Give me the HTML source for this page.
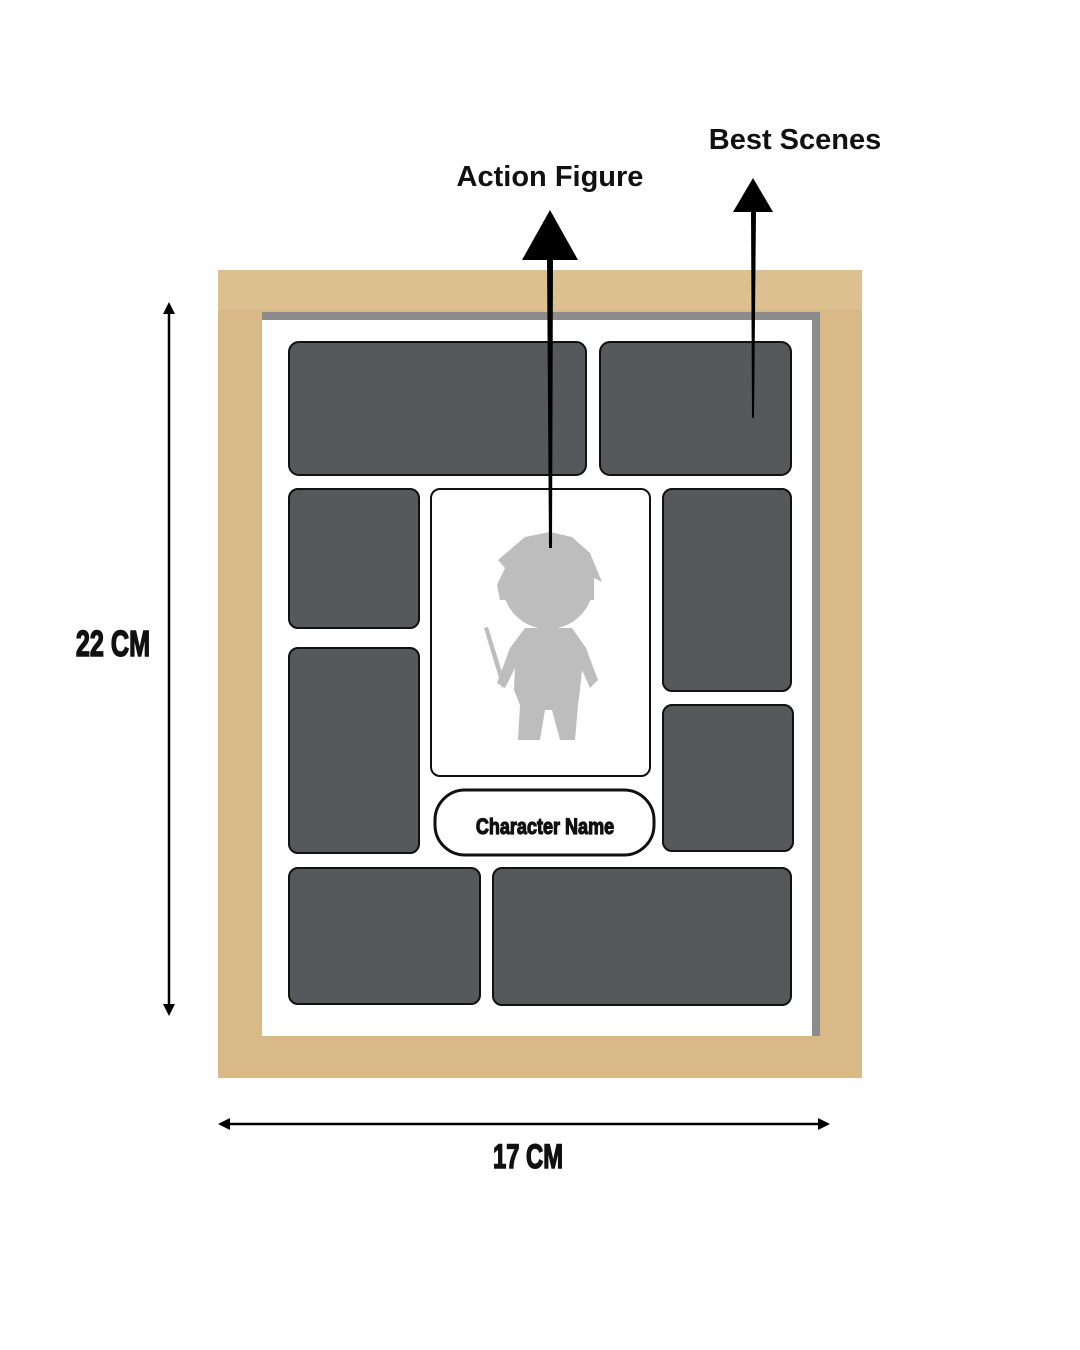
<!DOCTYPE html>
<html><head><meta charset="utf-8"><style>
html,body{margin:0;padding:0;background:#fff;}
svg{display:block}
</style></head><body>
<svg width="1080" height="1350" viewBox="0 0 1080 1350" xmlns="http://www.w3.org/2000/svg">
<rect width="1080" height="1350" fill="#fff"/>
<rect x="218" y="270" width="644" height="808" fill="#d9b988"/>
<rect x="218" y="270" width="644" height="40" fill="#dcc08f"/>
<rect x="262" y="312" width="558" height="724" fill="#8c8c8c"/>
<rect x="262" y="320" width="550" height="716" fill="#fff"/>
<g fill="#56585c" stroke="#111" stroke-width="2">
<rect x="289" y="342" width="297" height="133" rx="10"/>
<rect x="600" y="342" width="191" height="133" rx="10"/>
<rect x="289" y="489" width="130" height="139" rx="9"/>
<rect x="289" y="648" width="130" height="205" rx="9"/>
<rect x="663" y="489" width="128" height="202" rx="9"/>
<rect x="663" y="705" width="130" height="146" rx="9"/>
<rect x="289" y="868" width="191" height="136" rx="9"/>
<rect x="493" y="868" width="298" height="137" rx="9"/>
</g>
<rect x="431" y="489" width="219" height="287" rx="9" fill="#fff" stroke="#111" stroke-width="2"/>
<rect x="435" y="790" width="219" height="65" rx="30" fill="#fff" stroke="#111" stroke-width="3"/>
<text x="545" y="834" text-anchor="middle" font-family="Liberation Sans, sans-serif" font-weight="bold" font-size="22" stroke="#111" stroke-width="1.2" transform="translate(545 0) scale(0.82 1) translate(-545 0)" fill="#111">Character Name</text>
<g fill="#bdbdbd">
<ellipse cx="548" cy="585" rx="45" ry="44"/>
<path d="M497 585 L505 568 L498 560 L512 548 L525 537 L550 532 L572 537 L590 553 L602 582 L594 578 L594 600 L500 600 Z"/>
<path d="M525 628 L572 628 L586 648 L598 680 L590 688 L582 670 L580 690 L578 705 L575 740 L560 740 L552 710 L545 710 L540 740 L518 740 L520 705 L514 690 L515 668 L505 688 L497 683 L510 648 Z"/>
<path d="M484 628 L488 627 L506 685 L502 688 Z"/>
</g>
<g fill="#000">
<polygon points="547,258 553,258 552,548 549,548"/>
<polygon points="522,260 578,260 550,210"/>
<polygon points="751,212 756,212 754,418 752,418"/>
<polygon points="733,212 773,212 753,178"/>
</g>
<g stroke="#000" stroke-width="2.5">
<line x1="169" y1="308" x2="169" y2="1010"/>
<line x1="224" y1="1124" x2="824" y2="1124"/>
</g>
<g fill="#000">
<polygon points="169,302 163,314 175,314"/>
<polygon points="169,1016 163,1004 175,1004"/>
<polygon points="218,1124 230,1118 230,1130"/>
<polygon points="830,1124 818,1118 818,1130"/>
</g>
<g font-family="Liberation Sans, sans-serif" font-weight="bold" fill="#111">
<text x="550" y="186" text-anchor="middle" font-size="29">Action Figure</text>
<text x="795" y="149" text-anchor="middle" font-size="29">Best Scenes</text>
<text x="113" y="656" text-anchor="middle" font-size="36" stroke="#111" stroke-width="1.5" transform="translate(113 0) scale(0.7 1) translate(-113 0)">22 CM</text>
<text x="528" y="1168" text-anchor="middle" font-size="34" stroke="#111" stroke-width="1.5" transform="translate(528 0) scale(0.7 1) translate(-528 0)">17 CM</text>
</g>
</svg>
</body></html>
